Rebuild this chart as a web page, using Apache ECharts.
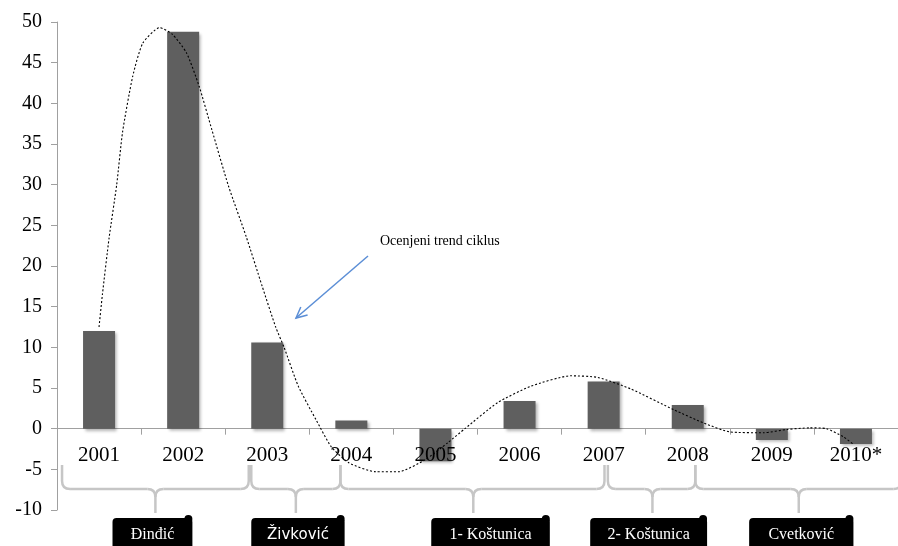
<!DOCTYPE html>
<html>
<head>
<meta charset="utf-8">
<script src="https://cdn.jsdelivr.net/npm/echarts@6/dist/echarts.min.js"></script>
<style>html,body{margin:0;padding:0;background:#fff;}#c{width:898px;height:546px;}</style>
</head>
<body>
<div id="c"></div>
<script>
// ---- data ----
var years = ['2001','2002','2003','2004','2005','2006','2007','2008','2009','2010*'];
var values = [12.0, 48.8, 10.6, 1.0, -4.0, 3.4, 5.8, 2.9, -1.4, -1.9];
// estimated trend cycle (x in category index units)
var trendIdx = [0, 0.04, 0.12, 0.21, 0.28, 0.40, 0.52, 0.72, 0.87, 1.04, 1.19, 1.34, 1.54, 1.75, 1.94, 2.10, 2.20, 2.37, 2.58, 2.76, 2.97, 3.29, 3.56, 3.88, 4.15, 4.35, 4.74, 5.13, 5.61, 5.93, 6.32, 6.84, 7.19, 7.50, 7.90, 8.18, 8.45, 8.65, 8.85, 8.98];
var trendVal = [12.5, 16.5, 23.5, 30.0, 36.5, 43.3, 47.4, 49.3, 48.5, 46.2, 42.1, 36.8, 29.8, 23.6, 17.5, 12.5, 10.0, 5.2, 1.1, -2.2, -4.2, -5.3, -5.3, -3.8, -1.7, 0.0, 3.2, 5.2, 6.5, 6.3, 4.9, 2.3, 0.7, -0.4, -0.5, -0.1, 0.1, 0.0, -1.0, -2.0];
var yTicks = {min: -10, max: 50, step: 5};
// government periods (in category index units)
var periodNames = ['Đinđić', 'Živković', '1- Koštunica', '2- Koštunica', 'Cvetković'];
var periodStart = [-0.44, 1.81, 2.87, 6.05, 7.09];
var periodEnd = [1.78, 2.87, 6.01, 7.09, 9.54];
var periodTip = [0.67, 2.34, 4.45, 6.58, 8.32];
var boxLeft = [0.16, 1.81, 3.95, 5.84, 7.73];
var boxRight = [1.11, 2.92, 5.36, 7.23, 8.97];
var annotationText = 'Ocenjeni trend ciklus';

var trendData = trendIdx.map(function (x, i) { return [x, trendVal[i]]; });

var chart = echarts.init(document.getElementById('c'), null, {renderer: 'canvas'});
var serif = '"Liberation Serif", "Times New Roman", serif';
chart.setOption({
  animation: false,
  backgroundColor: '#ffffff',
  grid: {left: 57, top: 22, width: 845, height: 488, containLabel: false},
  xAxis: [{
    type: 'category',
    data: years,
    boundaryGap: true,
    axisLine: {onZero: true, lineStyle: {color: '#a0a0a0', width: 1}},
    axisTick: {show: true, length: 6, lineStyle: {color: '#a0a0a0'}},
    axisLabel: {show: false},
    splitLine: {show: false}
  }, {
    type: 'value', min: -0.5, max: 9.5, show: false
  }, {
    type: 'category',
    data: years,
    position: 'bottom',
    offset: -81,
    z: 5,
    boundaryGap: true,
    axisLine: {show: false, onZero: false},
    axisTick: {show: false},
    axisLabel: {color: '#000', fontFamily: serif, fontSize: 21, margin: 16},
    splitLine: {show: false}
  }],
  yAxis: {
    type: 'value',
    min: yTicks.min, max: yTicks.max, interval: yTicks.step,
    axisLine: {show: true, onZero: false, lineStyle: {color: '#a0a0a0', width: 1}},
    axisTick: {show: true, length: 6, lineStyle: {color: '#a0a0a0'}},
    axisLabel: {color: '#000', fontFamily: serif, fontSize: 20, margin: 15},
    splitLine: {show: false}
  },
  series: [{
    type: 'bar',
    data: values,
    barWidth: 32,
    itemStyle: {
      color: '#5f5f5f',
      shadowColor: 'rgba(0,0,0,0.3)',
      shadowBlur: 3,
      shadowOffsetX: 2,
      shadowOffsetY: 2
    },
    z: 2
  }, {
    type: 'line',
    xAxisIndex: 1,
    data: trendData,
    smooth: 0.2,
    showSymbol: false,
    symbol: 'none',
    lineStyle: {color: '#000', width: 1.1, type: [2, 2]},
    z: 6
  }]
});

function px(idx) { return chart.convertToPixel({xAxisIndex: 1}, idx); }

var g = [];
var yTop = 465, yMid = 489, yBot = 513, r = 8;
var braceStyle = {fill: null, stroke: '#c6c6c6', lineWidth: 2.5};
function seg(a, b, c, d) { g.push({type: 'line', shape: {x1: a, y1: b, x2: c, y2: d}, style: braceStyle, z: 10}); }
function curve(a, b, cx, cy, c, d) { g.push({type: 'bezierCurve', shape: {x1: a, y1: b, cpx1: cx, cpy1: cy, x2: c, y2: d}, style: braceStyle, z: 10}); }
for (var i = 0; i < periodNames.length; i++) {
  var x0 = px(periodStart[i]), x1 = px(periodEnd[i]), xt = px(periodTip[i]);
  seg(x0, yTop, x0, yMid - r);
  curve(x0, yMid - r, x0, yMid, x0 + r, yMid);
  seg(x0 + r, yMid, xt - r, yMid);
  curve(xt - r, yMid, xt, yMid, xt, yMid + r);
  seg(xt, yMid + r, xt, yBot);
  curve(xt, yMid + r, xt, yMid, xt + r, yMid);
  seg(xt + r, yMid, x1 - r, yMid);
  curve(x1 - r, yMid, x1, yMid, x1, yMid - r);
  seg(x1, yMid - r, x1, yTop);
  var bl = px(boxLeft[i]), br = px(boxRight[i]);
  g.push({type: 'rect', shape: {x: bl, y: 518, width: br - bl, height: 34, r: 4}, style: {fill: '#000'}, z: 10});
  g.push({type: 'circle', shape: {cx: br - 4, cy: 519, r: 4}, style: {fill: '#000'}, z: 10});
  g.push({type: 'text', x: (bl + br) / 2, y: 535, style: {
    text: periodNames[i], fill: '#fff', align: 'center', verticalAlign: 'middle',
    font: (i === 1 ? '15px "DejaVu Sans", sans-serif' : '16px ' + serif)
  }, z: 11});
}
// annotation
g.push({type: 'text', x: 380, y: 241, style: {text: annotationText, fill: '#000', verticalAlign: 'middle', font: '14px ' + serif}, z: 12});
var tx = 296, ty = 318, sx = 368, sy = 256;
var ang = Math.atan2(sy - ty, sx - tx), hl = 12, ha = 0.45;
g.push({type: 'line', shape: {x1: sx, y1: sy, x2: tx, y2: ty}, style: {stroke: '#5b8ed6', lineWidth: 1.5}, z: 12});
g.push({type: 'polyline', shape: {points: [
  [tx + hl * Math.cos(ang + ha), ty + hl * Math.sin(ang + ha)],
  [tx, ty],
  [tx + hl * Math.cos(ang - ha), ty + hl * Math.sin(ang - ha)]
]}, style: {stroke: '#5b8ed6', lineWidth: 1.5, fill: null}, z: 12});
chart.setOption({graphic: g});
</script>
</body>
</html>
